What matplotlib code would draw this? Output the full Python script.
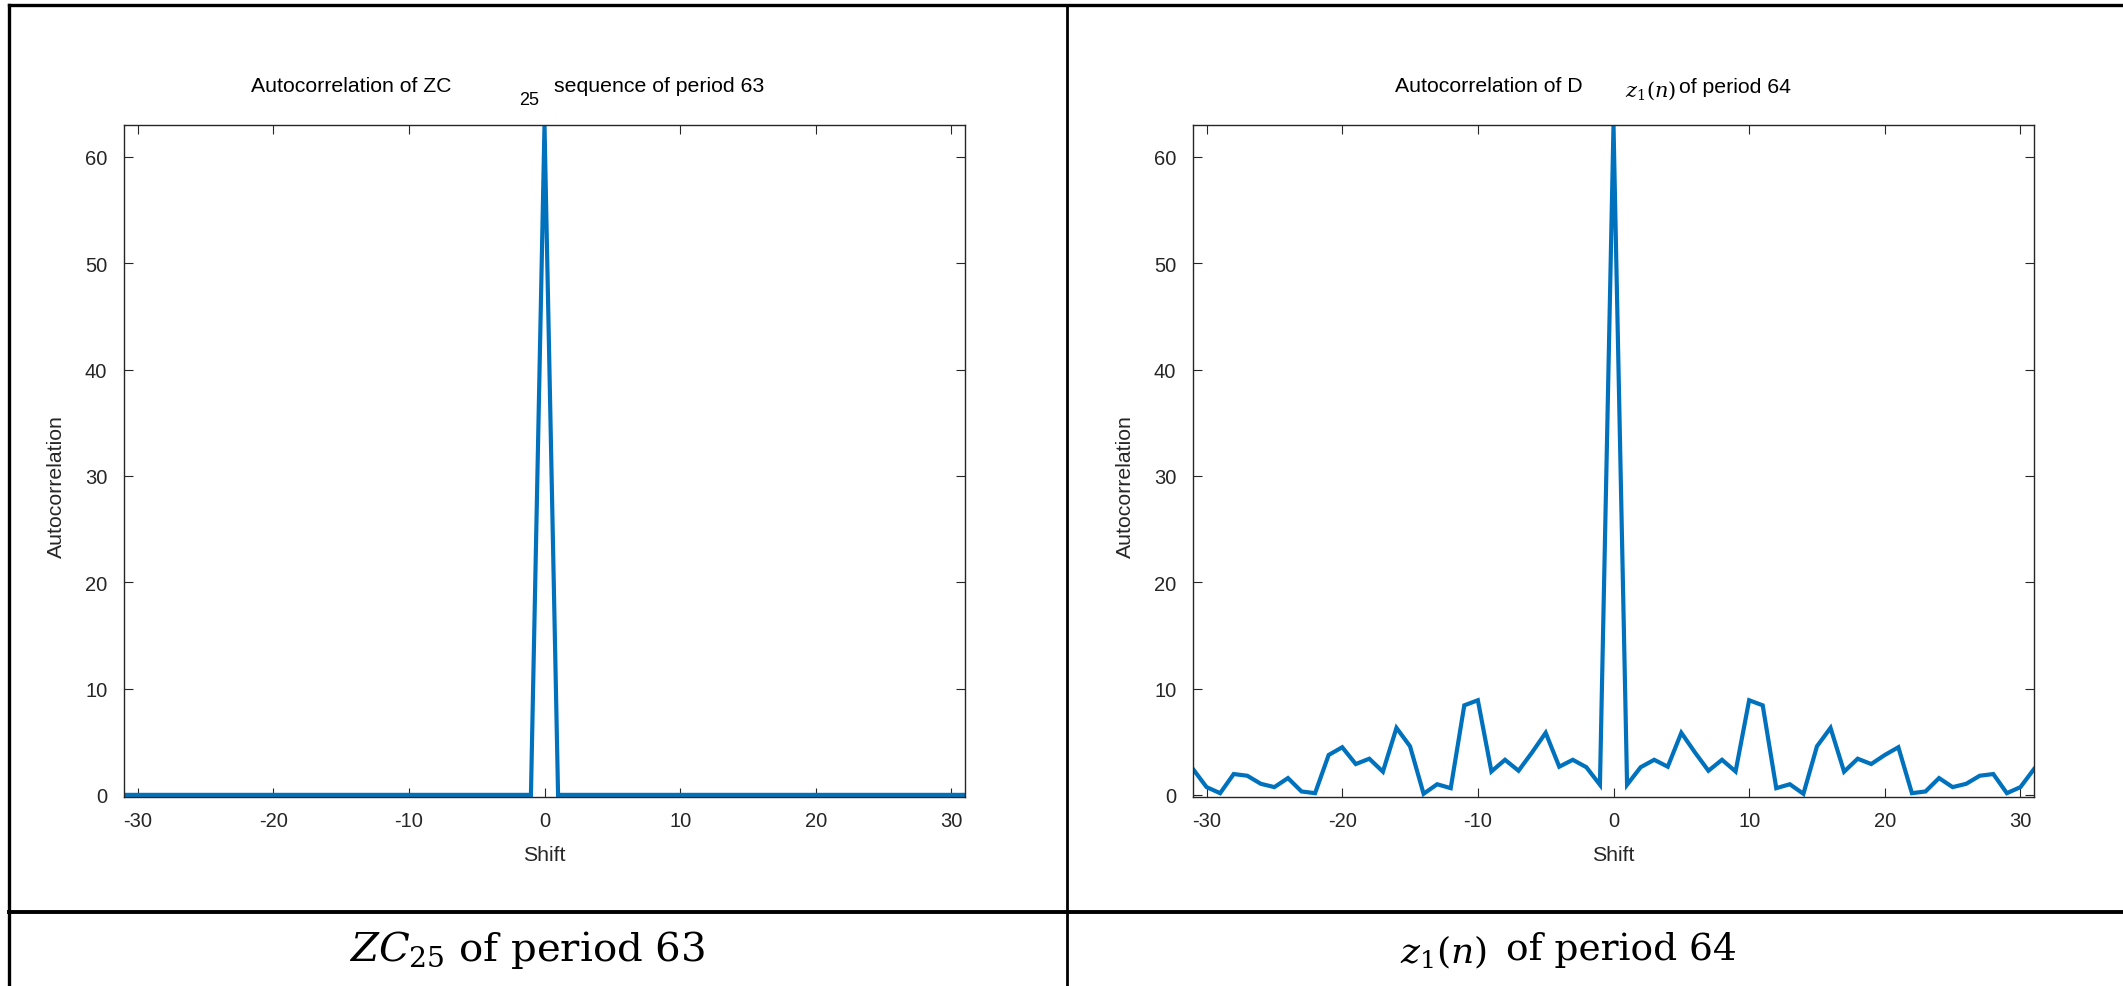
import matplotlib
matplotlib.use("Agg")
import matplotlib.pyplot as plt
from matplotlib.lines import Line2D

W, H = 2123, 987

plt.rcParams['font.family'] = ['Liberation Sans', 'DejaVu Sans']
plt.rcParams['mathtext.fontset'] = 'dejavuserif'
plt.rcParams['axes.unicode_minus'] = False

shift = [-31, -30, -29, -28, -27, -26, -25, -24, -23, -22, -21, -20, -19, -18, -17, -16,
         -15, -14, -13, -12, -11, -10, -9, -8, -7, -6, -5, -4, -3, -2, -1,
         0,
         1, 2, 3, 4, 5, 6, 7, 8, 9, 10, 11, 12, 13, 14, 15,
         16, 17, 18, 19, 20, 21, 22, 23, 24, 25, 26, 27, 28, 29, 30, 31]

zc_acorr = [0, 0, 0, 0, 0, 0, 0, 0, 0, 0, 0, 0, 0, 0, 0, 0,
            0, 0, 0, 0, 0, 0, 0, 0, 0, 0, 0, 0, 0, 0, 0,
            63,
            0, 0, 0, 0, 0, 0, 0, 0, 0, 0, 0, 0, 0, 0, 0,
            0, 0, 0, 0, 0, 0, 0, 0, 0, 0, 0, 0, 0, 0, 0, 0]

d_acorr = [2.43, 0.73, 0.16, 1.96, 1.80, 1.04, 0.73, 1.58, 0.32, 0.16, 3.75, 4.48, 2.90, 3.40, 2.18, 6.30,
           4.57, 0.10, 1.00, 0.63, 8.42, 8.90, 2.20, 3.30, 2.27, 4.00, 5.84, 2.65, 3.30, 2.60, 0.95,
           63,
           0.95, 2.60, 3.30, 2.65, 5.84, 4.00, 2.27, 3.30, 2.20, 8.90, 8.42, 0.63, 1.00, 0.10, 4.57,
           6.30, 2.18, 3.40, 2.90, 3.75, 4.48, 0.16, 0.32, 1.58, 0.73, 1.04, 1.80, 1.96, 0.16, 0.73, 2.43]

x_ticks = [-30, -20, -10, 0, 10, 20, 30]
y_ticks = [0, 10, 20, 30, 40, 50, 60]

LINE = '#0072BD'
AX_COL = '#262626'


def fx(px):
    return px / W


def fy(py):
    return 1 - py / H


def make_axes(fig, left, right, top, bottom, y):
    ax = fig.add_axes([fx(left), fy(bottom), fx(right - left), (bottom - top) / H])
    ax.plot(shift, y, color=LINE, lw=3.0, solid_joinstyle='miter')
    ax.set_xlim(-31, 31)
    ax.set_ylim(-0.2, 63)
    ax.set_xticks(x_ticks)
    ax.set_yticks(y_ticks)
    ax.tick_params(direction='in', top=True, right=True, length=6.5, width=0.8,
                   colors=AX_COL, labelsize=14.5)
    ax.tick_params(axis='x', pad=10)
    ax.tick_params(axis='y', pad=12)
    for s in ax.spines.values():
        s.set_color(AX_COL)
        s.set_linewidth(1.0)
    ax.set_xlabel('Shift', fontsize=15.3, color=AX_COL)
    ax.set_ylabel('Autocorrelation', fontsize=15.3, color=AX_COL)
    ax.xaxis.set_label_coords(0.5, -0.072)
    ax.yaxis.set_label_coords(-0.069, 0.463)
    return ax


fig = plt.figure(figsize=(W / 100, H / 100), dpi=100)

make_axes(fig, 124, 965, 126, 798, zc_acorr)
make_axes(fig, 1193, 2034, 126, 798, d_acorr)

# titles, pieced together like the original
fig.text(fx(251), fy(92), 'Autocorrelation of ZC', fontsize=15.3, va='baseline', color='black')
fig.text(fx(519), fy(105), '25', fontsize=13, va='baseline', color='black')
fig.text(fx(554), fy(92), 'sequence of period 63', fontsize=15.3, va='baseline', color='black')

fig.text(fx(1395), fy(92), 'Autocorrelation of D', fontsize=15.3, va='baseline', color='black')
fig.text(fx(1625), fy(97), '$z_1(n)$', fontsize=15, va='baseline', color='black')
fig.text(fx(1679), fy(93), 'of period 64', fontsize=15.3, va='baseline', color='black')

# table borders
border = dict(color='black', transform=fig.transFigure)
fig.add_artist(Line2D([fx(9), 1], [fy(6), fy(6)], lw=2.4, **border))
fig.add_artist(Line2D([fx(9), fx(9)], [0, fy(6)], lw=2.4, **border))
fig.add_artist(Line2D([fx(1067), fx(1067)], [0, fy(6)], lw=2.0, **border))
fig.add_artist(Line2D([fx(9), 1], [fy(913), fy(913)], lw=2.8, **border))

# captions under the plots
fig.text(fx(349), fy(950), '$ZC_{25}$ of period 63', fontsize=29, family='DejaVu Serif',
         ha='left', va='center', color='black')
fig.text(fx(1400), fy(952), '$z_1(n)$', fontsize=26, family='DejaVu Serif',
         ha='left', va='center', color='black')
fig.text(fx(1506), fy(950), 'of period 64', fontsize=27, family='DejaVu Serif',
         ha='left', va='center', color='black')

fig.savefig('out.png', dpi=100)
